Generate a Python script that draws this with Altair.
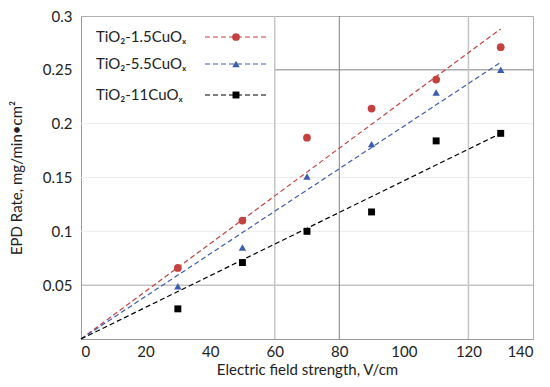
import altair as alt
import pandas as pd

# ---- data ----
field = [30, 50, 70, 90, 110, 130]
rate_15 = [0.066, 0.110, 0.187, 0.214, 0.241, 0.271]
rate_55 = [0.049, 0.085, 0.151, 0.181, 0.229, 0.250]
rate_11 = [0.028, 0.071, 0.100, 0.118, 0.184, 0.191]
series = ["TiO₂-1.5CuOₓ", "TiO₂-5.5CuOₓ", "TiO₂-11CuOₓ"]

trend_x = [0, 130]
trend_15 = [0, 0.288]
trend_55 = [0, 0.257]
trend_11 = [0, 0.191]

x_ticks = [0, 20, 40, 60, 80, 100, 120, 140]
y_ticks = [0, 0.05, 0.1, 0.15, 0.2, 0.25, 0.3]

grid_h_faint = [0.1, 0.15, 0.2]
grid_h_mid = [0.05]
grid_h_dark = [0.25]
grid_h_dark_from = [60]
grid_v_light = [60, 120]
grid_v_dark = [80]

FONT = "Lato"
colors = ["#C3423F", "#3F5DAE", "#000000"]
shapes = ["circle", "triangle-up", "square"]
sizes = [60, 55, 48]
rates = [rate_15, rate_55, rate_11]
trends = [trend_15, trend_55, trend_11]

xs = alt.Scale(domain=[0, 140], nice=False)
ys = alt.Scale(domain=[0, 0.3], nice=False)

base_axis_x = alt.Axis(values=x_ticks, grid=False, ticks=False, tickSize=0,
                       labelPadding=5, title="Electric field strength, V/cm",
                       titlePadding=3)
base_axis_y = alt.Axis(values=y_ticks, grid=False, ticks=False, tickSize=0,
                       labelPadding=9, title="EPD Rate, mg/min•cm²",
                       titlePadding=18,
                       labelExpr="datum.value == 0 ? '' : '' + round(datum.value*100)/100")

layers = []

# gridlines
gh_faint = alt.Chart(pd.DataFrame({"y": grid_h_faint})).mark_rule(color="#ececec", strokeWidth=1).encode(
    y=alt.Y("y:Q", scale=ys, axis=base_axis_y))
gh_mid = alt.Chart(pd.DataFrame({"y": grid_h_mid})).mark_rule(color="#a6a6a6", strokeWidth=1).encode(
    y=alt.Y("y:Q", scale=ys))
gh_dark = alt.Chart(pd.DataFrame({"y": grid_h_dark, "x0": grid_h_dark_from})).mark_rule(
    color="#808080", strokeWidth=1).encode(
    y=alt.Y("y:Q", scale=ys), x=alt.X("x0:Q", scale=xs, axis=base_axis_x), x2=alt.value(452))
gv_light = alt.Chart(pd.DataFrame({"x": grid_v_light})).mark_rule(color="#c4c4c4", strokeWidth=1.5).encode(
    x=alt.X("x:Q", scale=xs))
gv_dark = alt.Chart(pd.DataFrame({"x": grid_v_dark})).mark_rule(color="#808080", strokeWidth=1).encode(
    x=alt.X("x:Q", scale=xs))
layers += [gh_faint, gh_mid, gh_dark, gv_light, gv_dark]

# trend lines
for i in range(3):
    df = pd.DataFrame({"x": trend_x, "y": trends[i]})
    layers.append(alt.Chart(df).mark_line(color=colors[i], strokeDash=[5, 3], strokeWidth=1.2).encode(
        x=alt.X("x:Q", scale=xs), y=alt.Y("y:Q", scale=ys)))

# points
for i in range(3):
    df = pd.DataFrame({"x": field, "y": rates[i]})
    layers.append(alt.Chart(df).mark_point(shape=shapes[i], filled=True, opacity=1,
                                           color=colors[i], size=sizes[i]).encode(
        x=alt.X("x:Q", scale=xs), y=alt.Y("y:Q", scale=ys)))

# legend
leg_y = [21, 48, 79]
for i in range(3):
    ldf = pd.DataFrame({"label": [series[i]]})
    lc = alt.Chart(ldf)
    layers.append(lc.mark_text(align="left", baseline="middle", font=FONT, fontSize=15,
                               color="#222222").encode(
        x=alt.value(15), y=alt.value(leg_y[i]), text="label:N"))
    layers.append(lc.mark_rule(color=colors[i], strokeDash=[5, 3], strokeWidth=1.2).encode(
        x=alt.value(124), x2=alt.value(186), y=alt.value(leg_y[i])))
    layers.append(lc.mark_point(shape=shapes[i], filled=True, opacity=1, color=colors[i],
                                size=sizes[i]).encode(
        x=alt.value(155), y=alt.value(leg_y[i])))

chart = alt.layer(*layers).properties(
    width=452, height=323,
    autosize=alt.AutoSizeParams(type="none"),
    padding={"left": 73, "top": 8, "right": 9, "bottom": 40},
).configure_view(stroke="#b0b0b0", strokeWidth=1).configure_axis(
    domainColor="#999999", domainWidth=1,
    labelFont=FONT, labelFontSize=15, labelColor="#222222",
    titleFont=FONT, titleFontSize=15, titleColor="#222222", titleFontWeight="normal",
)

chart.save("out.html", embed_options={"renderer": "svg", "actions": False})
